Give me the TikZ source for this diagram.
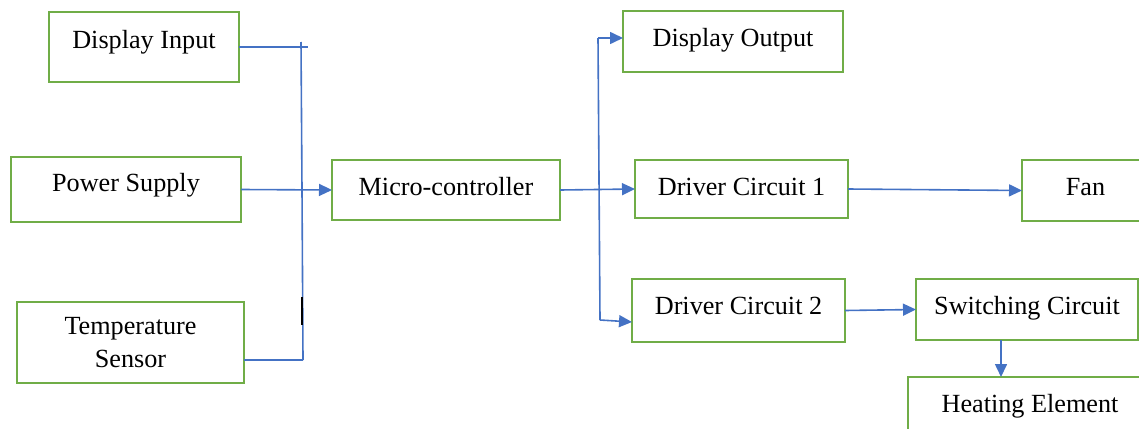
\documentclass[tikz,border=0pt]{standalone}
\usepackage{fontspec}
\setmainfont{Liberation Serif}
\usetikzlibrary{arrows.meta}
\definecolor{boxgreen}{HTML}{70AD47}
\definecolor{lineblue}{HTML}{4472C4}
\begin{document}
\begin{tikzpicture}[x=0.5pt,y=-0.5pt,
  block/.style={draw=boxgreen, line width=1.4pt, rectangle, outer sep=0pt, align=center,
    font=\fontsize{13.1}{16.5}\selectfont, text height=9pt, text depth=3.8pt},
  wire/.style={draw=lineblue, line width=0.8pt},
  arrow/.style={wire, -{Triangle[length=6.5pt,width=6pt]}}]

\clip (0,0) rectangle (1139,428);

% Input blocks
\node[block, minimum width=95pt, minimum height=35pt, text depth=7.8pt] (din) at (144,47) {Display Input};
\node[block, minimum width=115pt, minimum height=32.5pt, text depth=6.8pt] (psu) at (126,189.5) {Power Supply};
\node[block, minimum width=113.5pt, minimum height=40.5pt, text height=, text depth=] (tsens) at (130.5,342.5) {Temperature\\Sensor};

% Controller
\node[block, minimum width=114pt, minimum height=30pt, text depth=3.3pt] (mcu) at (446,190) {Micro-controller};

% Output blocks
\node[block, minimum width=110pt, minimum height=30.5pt] (dout) at (733,41.5) {Display Output};
\node[block, minimum width=106.5pt, minimum height=29pt, text depth=2.3pt] (drv1) at (741.5,189) {Driver Circuit 1};
\node[block, minimum width=63.5pt, minimum height=30.5pt] (fan) at (1085.5,190.5) {Fan};
\node[block, minimum width=106.5pt, minimum height=31.5pt, text depth=4.8pt] (drv2) at (738.5,310.5) {Driver Circuit 2};
\node[block, minimum width=111pt, minimum height=30.5pt] (swc) at (1027,309.5) {Switching Circuit};
\node[block, minimum width=122pt, minimum height=34pt, text depth=7.3pt] (heat) at (1030,411) {Heating Element};

% Junction points
\coordinate (jtop) at (301,42);
\coordinate (jmid) at (302,190);
\coordinate (jbot) at (303,360);
\coordinate (jend) at (308,47);
\coordinate (stop) at (598,38);
\coordinate (sbot) at (600,320);

% Inputs to controller
\draw[wire] (din.east) -- (jend);
\draw[wire] (jtop) -- (jmid) -- (jbot);
\draw[wire] (tsens.east |- jbot) -- (jbot);
\draw[arrow] (psu.east) -- (mcu.west);
\draw[black, line width=1.2pt] (302,297) -- (302,325); % stray mark

% Controller to outputs
\draw[arrow] (mcu.east) -- (drv1.west);
\draw[wire] (stop) -- (sbot);
\draw[arrow] (stop) -- (stop -| dout.west);
\draw[arrow] (sbot) -- ([yshift=-5.75pt]drv2.west);
\draw[arrow] (drv1.east) -- (fan.west);
\draw[arrow] (drv2.east) -- (swc.west);
\draw[arrow] ([xshift=-13pt]swc.south) -- ([xshift=-13pt]swc.south |- heat.north);

\end{tikzpicture}
\end{document}
